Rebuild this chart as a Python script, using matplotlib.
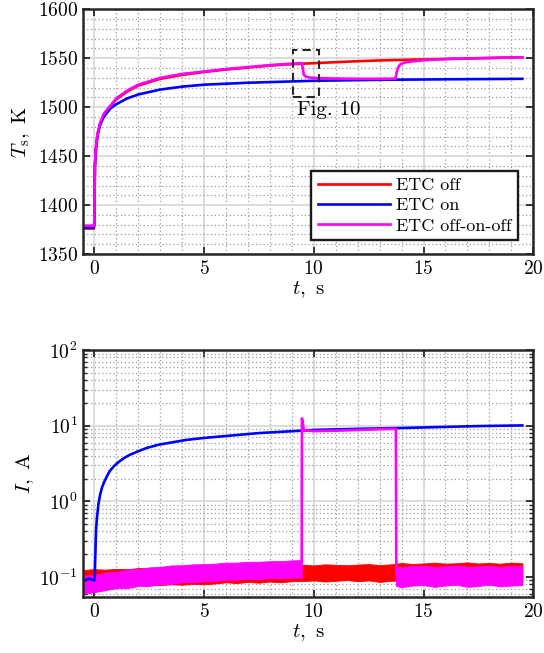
import numpy as np
import matplotlib
matplotlib.use("Agg")
import matplotlib.pyplot as plt
from matplotlib.patches import Rectangle
from matplotlib.ticker import MultipleLocator, LogLocator, NullFormatter

plt.rcParams['font.family'] = 'serif'
plt.rcParams['font.serif'] = ['cmr10']
plt.rcParams['mathtext.fontset'] = 'cm'
plt.rcParams['axes.formatter.use_mathtext'] = True

# ---- top panel: surface temperature, K ----
t_off = [-0.5, -0.02, 0.0, 0.03, 0.08, 0.15, 0.25, 0.43, 0.6, 0.75, 1.0, 1.5, 2.0, 3.0, 4.0,
         5.0, 6.0, 7.0, 8.0, 9.0, 10.0, 11.0, 12.0, 13.0, 14.0, 15.0, 16.0, 17.0, 18.0, 19.0, 19.5]
T_off = [1376, 1376, 1380, 1440, 1458, 1472, 1482, 1492, 1497, 1501, 1508, 1516, 1522, 1529, 1533,
         1536, 1538.5, 1540.5, 1542.5, 1544, 1545, 1546, 1547, 1547.8, 1548.3, 1548.8, 1549.3,
         1549.8, 1550.3, 1550.8, 1551]

t_on = [-0.5, -0.02, 0.0, 0.03, 0.08, 0.15, 0.25, 0.43, 0.6, 0.75, 1.0, 1.5, 2.0, 3.0, 4.0,
        5.0, 7.0, 10.0, 13.0, 16.0, 19.5]
T_on = [1377, 1377, 1381, 1440, 1458, 1471, 1481, 1490, 1495, 1499, 1503, 1509, 1513, 1518, 1521,
        1523, 1525, 1527, 1528, 1528.5, 1529]

t_ooo = [-0.5, -0.02, 0.0, 0.03, 0.08, 0.15, 0.25, 0.43, 0.6, 0.75, 1.0, 1.5, 2.0, 3.0, 4.0,
         5.0, 6.0, 7.0, 8.0, 9.0, 9.45, 9.5, 9.55, 9.62, 9.8, 10.2, 11.0, 12.0, 13.0, 13.72,
         13.78, 13.85, 13.95, 14.2, 14.6, 15.0, 16.0, 17.0, 18.0, 19.0, 19.5]
T_ooo = [1379, 1379, 1382, 1442, 1460, 1473, 1483, 1493, 1498, 1502, 1509, 1517, 1523, 1530, 1534,
         1536.5, 1539, 1541, 1543, 1544.5, 1545, 1540, 1533, 1531.5, 1530.3, 1529.7, 1529.3, 1529,
         1529, 1529.2, 1536, 1541, 1544, 1546, 1547, 1548, 1549.2, 1549.8, 1550.3, 1550.8, 1551]

# ---- bottom panel: current, A ----
t_I_on = [-0.5, -0.25, 0.0, 0.02, 0.05, 0.08, 0.12, 0.19, 0.26, 0.35, 0.45, 0.58, 0.7, 0.9, 1.1,
          1.37, 1.6, 2.0, 2.4, 2.95, 3.5, 4.2, 5.0, 7.5, 10.0, 12.0, 13.75, 15.0, 17.5, 19.5]
I_on = [0.088, 0.095, 0.09, 0.1, 0.2, 0.41, 0.6, 0.92, 1.2, 1.52, 1.8, 2.16, 2.5, 2.93, 3.3,
        3.76, 4.1, 4.6, 5.1, 5.63, 6.0, 6.5, 6.9, 8.0, 8.8, 9.1, 9.3, 9.5, 9.9, 10.1]

# magenta while ETC is on (9.45 s .. 13.75 s)
t_I_mid = [9.45, 9.46, 9.5, 9.55, 10.0, 11.0, 12.0, 13.0, 13.74, 13.76]
I_mid = [0.16, 12.5, 11.0, 8.7, 8.5, 8.6, 8.8, 9.0, 9.1, 0.11]

# noise band envelopes, ETC off (red)
t_band = [-0.5, 0.0, 0.5, 1.0, 1.5, 2.0, 2.5, 3.0, 3.5, 4.0, 4.5, 5.0, 5.5, 6.0, 6.5, 7.0,
          7.5, 8.0, 8.5, 9.0, 9.5, 10.0, 10.5, 11.0, 11.5, 12.0, 12.5, 13.0, 13.5, 14.0,
          14.5, 15.0, 15.5, 16.0, 16.5, 17.0, 17.5, 18.0, 18.5, 19.0, 19.5]
off_hi = [0.124, 0.127, 0.125, 0.128, 0.127, 0.131, 0.130, 0.134, 0.133, 0.137, 0.136, 0.139,
          0.138, 0.141, 0.140, 0.143, 0.141, 0.144, 0.142, 0.145, 0.146, 0.142, 0.147, 0.145,
          0.143, 0.146, 0.148, 0.144, 0.147, 0.153, 0.149, 0.151, 0.155, 0.150, 0.152, 0.156,
          0.151, 0.153, 0.150, 0.155, 0.152]
off_lo = [0.092, 0.089, 0.087, 0.084, 0.082, 0.079, 0.080, 0.078, 0.080, 0.079, 0.081, 0.080,
          0.082, 0.085, 0.083, 0.086, 0.084, 0.087, 0.085, 0.088, 0.088, 0.090, 0.087, 0.089,
          0.091, 0.088, 0.090, 0.086, 0.089, 0.090, 0.088, 0.091, 0.089, 0.090, 0.088, 0.091,
          0.089, 0.090, 0.088, 0.091, 0.089]

# noise band envelopes, ETC off-on-off (magenta), before and after the on period
t_m1 = [-0.5, 0.0, 0.5, 1.0, 1.5, 2.0, 2.5, 3.0, 3.5, 4.0, 4.5, 5.0, 5.5, 6.0, 6.5, 7.0,
        7.5, 8.0, 8.5, 9.0, 9.45]
m1_hi = [0.104, 0.106, 0.114, 0.117, 0.125, 0.127, 0.134, 0.136, 0.142, 0.143, 0.147, 0.148,
         0.150, 0.155, 0.155, 0.159, 0.159, 0.162, 0.162, 0.166, 0.167]
m1_lo = [0.060, 0.063, 0.067, 0.071, 0.071, 0.076, 0.076, 0.080, 0.081, 0.085, 0.085, 0.088,
         0.088, 0.092, 0.092, 0.095, 0.094, 0.097, 0.096, 0.098, 0.098]
t_m3 = [13.75, 14.0, 14.5, 15.0, 15.5, 16.0, 16.5, 17.0, 17.5, 18.0, 18.5, 19.0, 19.5]
m3_hi = [0.138, 0.135, 0.140, 0.141, 0.136, 0.139, 0.142, 0.137, 0.138, 0.141, 0.136, 0.140, 0.139]
m3_lo = [0.076, 0.073, 0.077, 0.078, 0.074, 0.077, 0.079, 0.074, 0.076, 0.079, 0.075, 0.077, 0.078]

RED, BLUE, MAG = (1, 0, 0), (0, 0, 1), (1, 0, 1)
LW = 1.9

fig = plt.figure(figsize=(5.44, 6.53), dpi=100)
ax1 = fig.add_axes([0.1531, 0.611, 0.8272, 0.3747])
ax2 = fig.add_axes([0.1531, 0.0858, 0.8272, 0.378])


def style(ax):
    ax.set_xlim(-0.5, 20)
    ax.set_xticks([0, 5, 10, 15, 20])
    ax.xaxis.set_minor_locator(MultipleLocator(1))
    ax.grid(True, which='major', color='0.85', lw=1.3, ls='-')
    ax.grid(True, which='minor', color='0.62', lw=0.9, ls=(0, (1, 2)))
    ax.set_axisbelow(True)
    for s in ax.spines.values():
        s.set_linewidth(1.8)
        s.set_color('0.15')
    ax.tick_params(which='both', direction='in', top=True, right=True,
                   labelsize=14, color='0.15', pad=4)
    ax.tick_params(which='major', length=5, width=1.3)
    ax.tick_params(axis='x', which='minor', length=0)
    ax.set_xlabel(r'$t,\ \mathrm{s}$', fontsize=15, labelpad=1)


# top panel
ax1.plot(t_off, T_off, color=RED, lw=LW, label='ETC off')
ax1.plot(t_on, T_on, color=BLUE, lw=LW, label='ETC on')
ax1.plot(t_ooo, T_ooo, color=MAG, lw=LW, label='ETC off-on-off')
style(ax1)
ax1.set_ylim(1350, 1600)
ax1.set_yticks([1350, 1400, 1450, 1500, 1550, 1600])
ax1.yaxis.set_minor_locator(MultipleLocator(10))
ax1.tick_params(axis='y', which='minor', length=0)
ax1.set_ylabel(r'$T_\mathrm{s},\ \mathrm{K}$', fontsize=15, labelpad=4)
ax1.add_patch(Rectangle((9.05, 1510.2), 1.17, 48.4, fill=False, ls=(0, (4, 2.5)),
                        lw=1.5, ec='0.15', zorder=4))
ax1.text(9.25, 1497, 'Fig. 10', fontsize=15, va='center', ha='left')
leg = ax1.legend(loc='lower right', bbox_to_anchor=(0.966, 0.058), fontsize=13,
                 handlelength=4.0, handletextpad=0.35, labelspacing=0.25,
                 borderpad=0.35, borderaxespad=0, fancybox=False, framealpha=1)
leg.get_frame().set_edgecolor('0.1')
leg.get_frame().set_linewidth(1.7)

# bottom panel
ax2.set_yscale('log')
ax2.fill_between(t_band, off_lo, off_hi, color=RED, lw=0.6, ec=RED)
ax2.plot(t_I_on, I_on, color=BLUE, lw=LW)
ax2.fill_between(t_m1, m1_lo, m1_hi, color=MAG, lw=0.6, ec=MAG)
ax2.fill_between(t_m3, m3_lo, m3_hi, color=MAG, lw=0.6, ec=MAG)
ax2.plot(t_I_mid, I_mid, color=MAG, lw=LW)
style(ax2)
ax2.set_ylim(0.0544, 100)
ax2.yaxis.set_major_locator(LogLocator(base=10, numticks=10))
ax2.yaxis.set_minor_locator(LogLocator(base=10, subs=np.arange(2, 10), numticks=10))
ax2.yaxis.set_minor_formatter(NullFormatter())
ax2.tick_params(axis='y', which='minor', length=3, width=1)
ax2.set_ylabel(r'$I,\ \mathrm{A}$', fontsize=15, labelpad=2)

fig.savefig('out.png', dpi=100)
